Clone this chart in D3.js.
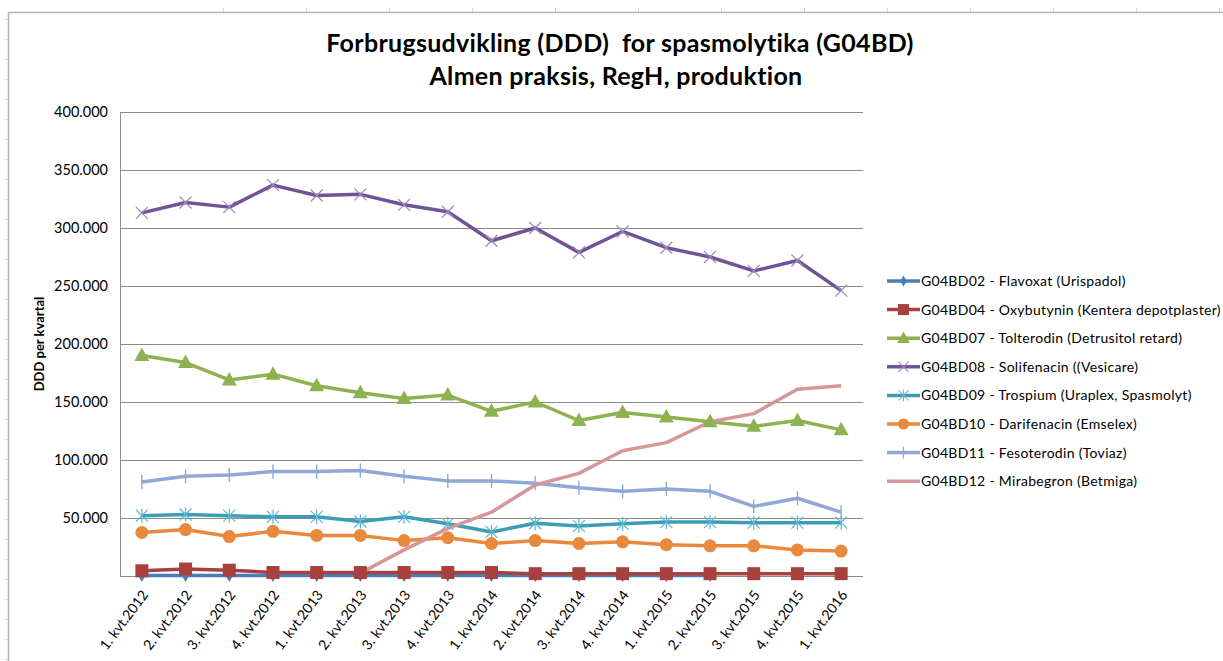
<!DOCTYPE html>
<html>
<head>
<meta charset="utf-8">
<script src="https://cdn.jsdelivr.net/npm/d3@7"></script>
<style>
  body { margin: 0; background: #fff; }
  text { font-family: Lato, "Open Sans", sans-serif; }
</style>
</head>
<body>
<script>
// quarters on the x axis
var quarters = ['1. kvt.2012','2. kvt.2012','3. kvt.2012','4. kvt.2012',
  '1. kvt.2013','2. kvt.2013','3. kvt.2013','4. kvt.2013',
  '1. kvt.2014','2. kvt.2014','3. kvt.2014','4. kvt.2014',
  '1. kvt.2015','2. kvt.2015','3. kvt.2015','4. kvt.2015','1. kvt.2016'];

var yTicks = [50000,100000,150000,200000,250000,300000,350000,400000];

// series values, DDD per quarter
var flavoxat    = [400,400,400,400,400,400,400,400,400,400,400,400,400,400,null,null,null];
var oxybutynin  = [4500,6000,5000,3000,3000,3000,3000,3000,3000,2000,2000,2000,2000,2000,2000,2000,2000];
var tolterodin  = [190000,184000,169000,174000,164000,158000,153000,156000,142000,150000,134000,141000,137000,133000,129000,134000,126000];
var solifenacin = [313000,322000,318000,337000,328000,329000,320000,314000,289000,300000,279000,297000,283000,275000,263000,272000,246000];
var trospium    = [52000,53000,52000,51000,51000,47000,51000,45000,38000,45500,43000,45000,46500,46500,46000,46000,46000];
var darifenacin = [37500,40000,34000,38500,35000,35000,30500,33000,28000,30500,28000,29500,27000,26000,26000,22500,21500];
var fesoterodin = [81000,86000,87000,90000,90000,91000,86000,82000,82000,80000,76000,73000,75000,73000,60000,67000,55000];
var mirabegron  = [null,null,null,null,null,2500,22500,41000,55000,78500,88500,108000,115000,133000,140000,161000,164000];

var names = ['G04BD02 - Flavoxat (Urispadol)',
  'G04BD04 - Oxybutynin (Kentera depotplaster)',
  'G04BD07 - Tolterodin (Detrusitol retard)',
  'G04BD08 - Solifenacin ((Vesicare)',
  'G04BD09 - Trospium (Uraplex, Spasmolyt)',
  'G04BD10 - Darifenacin (Emselex)',
  'G04BD11 - Fesoterodin (Toviaz)',
  'G04BD12 - Mirabegron (Betmiga)'];

var series = [
  {name: names[0], values: flavoxat,    color: '#4A7EBB', marker: 'diamond'},
  {name: names[1], values: oxybutynin,  color: '#A8413E', marker: 'square'},
  {name: names[2], values: tolterodin,  color: '#8DB24F', marker: 'triangle'},
  {name: names[3], values: solifenacin, color: '#6F5596', marker: 'x'},
  {name: names[4], values: trospium,    color: '#3C9DB6', marker: 'star'},
  {name: names[5], values: darifenacin, color: '#E8893C', marker: 'circle'},
  {name: names[6], values: fesoterodin, color: '#8FA8D6', marker: 'plus'},
  {name: names[7], values: mirabegron,  color: '#D69897', marker: 'none'}
];

var width = 1223, height = 661;
var svg = d3.select('body').append('svg').attr('width', width).attr('height', height);

// sheet frame with ruler ticks
var frame = svg.append('g').attr('stroke', '#b5b5b5');
frame.append('line').attr('x1', 8).attr('x2', width).attr('y1', 12.5).attr('y2', 12.5).attr('stroke-width', 1.5);
frame.append('line').attr('x1', 8.5).attr('x2', 8.5).attr('y1', 12).attr('y2', height).attr('stroke-width', 1.5);
d3.range(19, height, 20).forEach(function(yy){
  frame.append('line').attr('x1', 5).attr('x2', 8).attr('y1', yy + 0.5).attr('y2', yy + 0.5).attr('stroke', '#d5d5d5');
});
d3.range(223, width + 1, 83).forEach(function(xx){
  frame.append('line').attr('x1', xx + 0.5).attr('x2', xx + 0.5).attr('y1', 8).attr('y2', 12).attr('stroke', '#d5d5d5');
});

var plotL = 120, plotR = 863, plotT = 112, plotB = 576;
var x = d3.scaleBand().domain(quarters).range([plotL, plotR]);
var cx = function(q){ return x(q) + x.bandwidth() / 2; };
var y = d3.scaleLinear().domain([0, 400000]).range([plotB, plotT]);

var locale = d3.formatLocale({decimal: ',', thousands: '.', grouping: [3], currency: ['', ' kr']});
var fmtY = locale.format(',');

// gridlines + y labels
var yAxis = d3.axisLeft(y).tickValues(yTicks).tickSize(-(plotR - plotL)).tickFormat(fmtY).tickPadding(12);
var gy = svg.append('g').attr('transform', 'translate(' + plotL + ',0)').call(yAxis);
gy.select('.domain').remove();
gy.selectAll('.tick line').attr('stroke', '#8c8c8c').attr('stroke-width', 1);
gy.selectAll('.tick text').attr('font-size', 14.5).attr('fill', '#000').attr('font-family', 'Lato, sans-serif');

// plot border left/bottom
svg.append('line').attr('x1', plotL + 0.5).attr('x2', plotL + 0.5).attr('y1', plotT).attr('y2', plotB).attr('stroke', '#8c8c8c');
svg.append('line').attr('x1', plotL).attr('x2', plotR).attr('y1', plotB + 0.5).attr('y2', plotB + 0.5).attr('stroke', '#8c8c8c');

// x labels
var xAxis = d3.axisBottom(x).tickSize(0).tickPadding(0);
var gx = svg.append('g').attr('transform', 'translate(0,' + plotB + ')').call(xAxis);
gx.select('.domain').remove();
gx.selectAll('.tick text')
  .attr('font-size', 14).attr('fill', '#000').attr('font-family', 'Lato, sans-serif')
  .attr('text-anchor', 'end')
  .attr('dy', 0)
  .attr('transform', 'translate(7,19) rotate(-53)');

// lines
var line = d3.line()
  .defined(function(d){ return d != null; })
  .x(function(d, i){ return cx(quarters[i]); })
  .y(function(d){ return y(d); });

var plot = svg.append('g');
series.forEach(function(s){
  plot.append('path').datum(s.values)
    .attr('d', line)
    .attr('fill', 'none')
    .attr('stroke', s.color)
    .attr('stroke-width', 3.5)
    .attr('stroke-linejoin', 'round');
});

function drawMarker(g, type, color){
  if (type === 'diamond') {
    g.append('path').attr('d', d3.symbol(d3.symbolDiamond, 50)()).attr('fill', color);
  } else if (type === 'square') {
    g.append('rect').attr('x', -6.5).attr('y', -6.5).attr('width', 13).attr('height', 13).attr('fill', color);
  } else if (type === 'triangle') {
    g.append('path').attr('d', 'M0,-8L7.5,5.5L-7.5,5.5Z').attr('fill', color);
  } else if (type === 'x') {
    g.append('path').attr('d', 'M-6,-6L6,6M-6,6L6,-6').attr('stroke', '#9c8ab8').attr('stroke-width', 1.2);
  } else if (type === 'star') {
    g.append('path').attr('d', 'M-6,-6L6,6M-6,6L6,-6M0,-7L0,7').attr('stroke', '#5cb8d0').attr('stroke-width', 1.2);
  } else if (type === 'circle') {
    g.append('circle').attr('r', 6.5).attr('fill', color);
  } else if (type === 'plus') {
    g.append('path').attr('d', 'M0,-7L0,7').attr('stroke', color).attr('stroke-width', 1.4);
  }
}

series.forEach(function(s){
  if (s.marker === 'none') return;
  s.values.forEach(function(v, i){
    if (v == null) return;
    var g = plot.append('g').attr('transform', 'translate(' + cx(quarters[i]) + ',' + y(v) + ')');
    drawMarker(g, s.marker, s.color);
  });
});

// legend
var legend = svg.append('g').attr('transform', 'translate(887,281)');
series.forEach(function(s, i){
  var g = legend.append('g').attr('transform', 'translate(0,' + (i * 28.6) + ')');
  g.append('line').attr('x1', 0).attr('x2', 33).attr('y1', 0).attr('y2', 0)
    .attr('stroke', s.color).attr('stroke-width', 3.5);
  var m = g.append('g').attr('transform', 'translate(16.5,0) scale(0.85)');
  drawMarker(m, s.marker, s.color);
  g.append('text').attr('x', 34).attr('y', 0).attr('dy', '0.35em')
    .attr('font-size', 14).attr('letter-spacing', 0.3).attr('fill', '#000').text(s.name);
});

// titles
svg.append('text').attr('x', 620).attr('y', 52).attr('text-anchor', 'middle')
  .attr('font-size', 25).attr('font-weight', 'bold').attr('letter-spacing', 0.3).attr('fill', '#000')
  .style('white-space', 'pre')
  .text('Forbrugsudvikling (DDD)  for spasmolytika (G04BD)');
svg.append('text').attr('x', 616).attr('y', 85).attr('text-anchor', 'middle')
  .attr('font-size', 25).attr('font-weight', 'bold').attr('letter-spacing', 0.3).attr('fill', '#000')
  .text('Almen praksis, RegH, produktion');

svg.append('text')
  .attr('transform', 'translate(44,' + ((plotT + plotB) / 2) + ') rotate(-90)')
  .attr('text-anchor', 'middle').attr('font-size', 13).attr('font-weight', 'bold').attr('fill', '#000')
  .text('DDD per kvartal');
</script>
</body>
</html>
